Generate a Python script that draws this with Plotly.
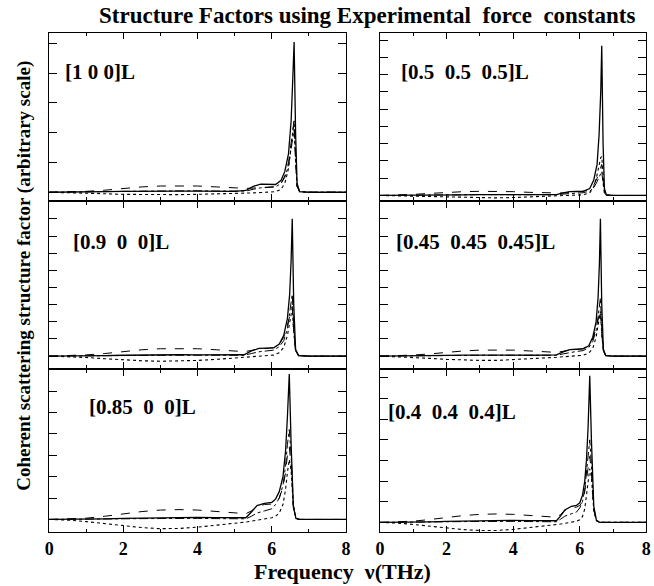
import plotly.graph_objects as go

# ---------------- data (arbitrary units, one unit = one y tick interval) ----------------
FREQ_TL = [0, 0.5, 1, 1.5, 2, 2.5, 3, 3.5, 4, 4.5, 5, 5.3, 5.5, 5.7, 5.9, 6.1, 6.25, 6.35, 6.45, 6.52, 6.57, 6.6, 6.64, 6.68, 6.75, 7, 8]
TL_SOLID = [0, 0, 0.01, 0.02, 0.03, 0.04, 0.04, 0.04, 0.04, 0.03, 0.03, 0.06, 0.2, 0.27, 0.26, 0.26, 0.4, 0.7, 1.3, 2.4, 4.0, 5.05, 2.0, 0.3, 0.02, 0, 0]
TL_DASH = [0, 0.01, 0.03, 0.07, 0.13, 0.18, 0.21, 0.22, 0.21, 0.18, 0.14, 0.13, 0.14, 0.16, 0.17, 0.19, 0.3, 0.55, 1.0, 1.6, 2.2, 2.4, 1.2, 0.2, 0.02, 0, 0]
TL_DOT = [0, -0.01, -0.03, -0.05, -0.07, -0.08, -0.08, -0.08, -0.07, -0.06, -0.04, -0.03, -0.02, -0.01, 0.0, 0.02, 0.1, 0.3, 0.8, 1.5, 2.2, 2.4, 1.3, 0.2, 0.02, 0, 0]
TL_DASHDOT = [0, 0, 0.01, 0.02, 0.03, 0.04, 0.05, 0.05, 0.05, 0.04, 0.03, 0.04, 0.1, 0.15, 0.16, 0.18, 0.3, 0.5, 0.9, 1.4, 1.9, 2.1, 1.0, 0.2, 0.02, 0, 0]

FREQ_TR = [0, 0.5, 1, 1.5, 2, 2.5, 3, 3.5, 4, 4.5, 5, 5.3, 5.5, 5.7, 5.9, 6.1, 6.3, 6.42, 6.52, 6.58, 6.63, 6.66, 6.7, 6.74, 6.8, 7, 8]
TR_SOLID = [0, 0, 0.01, 0.02, 0.03, 0.04, 0.05, 0.05, 0.04, 0.03, 0.03, 0.05, 0.15, 0.22, 0.23, 0.24, 0.4, 0.9, 1.8, 3.5, 6.0, 8.67, 3.0, 0.4, 0.03, 0, 0]
TR_DASH = [0, 0.02, 0.06, 0.12, 0.18, 0.22, 0.24, 0.24, 0.22, 0.18, 0.14, 0.12, 0.14, 0.18, 0.2, 0.24, 0.35, 0.6, 1.0, 1.4, 1.7, 1.8, 0.9, 0.2, 0.02, 0, 0]
TR_DOT = [0, -0.02, -0.05, -0.08, -0.11, -0.13, -0.14, -0.14, -0.12, -0.09, -0.06, -0.04, -0.03, -0.01, 0.01, 0.04, 0.15, 0.5, 1.2, 1.8, 2.2, 2.25, 1.1, 0.2, 0.02, 0, 0]
TR_DASHDOT = [0, 0, 0.01, 0.02, 0.03, 0.04, 0.05, 0.05, 0.05, 0.04, 0.03, 0.04, 0.08, 0.12, 0.14, 0.16, 0.25, 0.45, 0.8, 1.1, 1.35, 1.4, 0.7, 0.15, 0.02, 0, 0]

FREQ_ML = [0, 0.5, 1, 1.5, 2, 2.5, 3, 3.5, 4, 4.5, 5, 5.25, 5.45, 5.65, 5.85, 6.05, 6.2, 6.32, 6.42, 6.48, 6.52, 6.55, 6.59, 6.64, 6.72, 7, 8]
ML_SOLID = [0, 0, 0.01, 0.03, 0.05, 0.07, 0.08, 0.08, 0.07, 0.06, 0.05, 0.08, 0.3, 0.45, 0.47, 0.48, 0.7, 1.2, 2.2, 3.6, 5.6, 8.0, 3.0, 0.4, 0.03, 0, 0]
ML_DASH = [0, 0.02, 0.07, 0.15, 0.27, 0.37, 0.43, 0.45, 0.43, 0.37, 0.29, 0.26, 0.33, 0.42, 0.45, 0.5, 0.7, 1.1, 1.8, 2.4, 2.8, 2.9, 1.4, 0.3, 0.03, 0, 0]
ML_DOT = [0, -0.03, -0.08, -0.15, -0.22, -0.27, -0.3, -0.29, -0.25, -0.19, -0.12, -0.08, -0.05, -0.02, 0.01, 0.06, 0.2, 0.5, 1.2, 2.0, 2.6, 2.8, 1.4, 0.3, 0.03, 0, 0]
ML_DASHDOT = [0, 0, 0.01, 0.02, 0.03, 0.04, 0.05, 0.05, 0.05, 0.04, 0.03, 0.05, 0.15, 0.25, 0.3, 0.35, 0.55, 0.9, 1.6, 2.5, 3.3, 3.6, 1.7, 0.3, 0.03, 0, 0]

FREQ_MR = [0, 0.5, 1, 1.5, 2, 2.5, 3, 3.5, 4, 4.5, 5, 5.3, 5.5, 5.7, 5.9, 6.1, 6.27, 6.39, 6.49, 6.55, 6.59, 6.62, 6.66, 6.71, 6.78, 7, 8]
MR_SOLID = [0, 0, 0.01, 0.03, 0.04, 0.06, 0.07, 0.07, 0.06, 0.05, 0.04, 0.07, 0.25, 0.38, 0.4, 0.42, 0.6, 1.1, 2.0, 3.4, 5.4, 8.0, 3.0, 0.4, 0.03, 0, 0]
MR_DASH = [0, 0.02, 0.06, 0.13, 0.22, 0.3, 0.35, 0.37, 0.35, 0.3, 0.24, 0.22, 0.28, 0.36, 0.39, 0.44, 0.62, 1.0, 1.6, 2.2, 2.6, 2.7, 1.3, 0.3, 0.03, 0, 0]
MR_DOT = [0, -0.03, -0.07, -0.13, -0.19, -0.23, -0.25, -0.25, -0.21, -0.16, -0.1, -0.07, -0.04, -0.02, 0.01, 0.05, 0.18, 0.45, 1.1, 1.8, 2.4, 2.6, 1.3, 0.3, 0.03, 0, 0]
MR_DASHDOT = [0, 0, 0.01, 0.02, 0.03, 0.04, 0.05, 0.05, 0.05, 0.04, 0.03, 0.05, 0.13, 0.22, 0.27, 0.32, 0.5, 0.85, 1.5, 2.3, 3.1, 3.4, 1.6, 0.3, 0.03, 0, 0]

FREQ_BL = [0, 0.5, 1, 1.5, 2, 2.5, 3, 3.5, 4, 4.5, 5, 5.3, 5.45, 5.6, 5.8, 6.0, 6.1, 6.2, 6.3, 6.37, 6.42, 6.47, 6.52, 6.58, 6.65, 6.75, 7, 8]
BL_SOLID = [0, 0, 0.01, 0.03, 0.05, 0.07, 0.09, 0.1, 0.1, 0.09, 0.08, 0.08, 0.35, 0.65, 0.75, 0.8, 0.95, 1.3, 2.0, 3.2, 4.8, 6.8, 3.5, 0.6, 0.05, 0, 0, 0]
BL_DASH = [0, 0.02, 0.06, 0.15, 0.26, 0.37, 0.44, 0.46, 0.44, 0.38, 0.3, 0.27, 0.4, 0.6, 0.7, 0.72, 0.8, 1.0, 1.5, 2.2, 3.0, 3.4, 2.5, 0.6, 0.05, 0, 0, 0]
BL_DOT = [0, -0.03, -0.1, -0.2, -0.3, -0.38, -0.43, -0.42, -0.36, -0.28, -0.18, -0.12, -0.08, -0.04, 0.0, 0.08, 0.15, 0.3, 0.7, 1.4, 2.2, 2.8, 2.3, 0.6, 0.05, 0, 0, 0]
BL_DASHDOT = [0, 0, 0.01, 0.02, 0.03, 0.04, 0.05, 0.05, 0.05, 0.04, 0.03, 0.03, 0.15, 0.3, 0.4, 0.5, 0.7, 1.0, 1.6, 2.5, 3.5, 4.2, 3.0, 0.7, 0.05, 0, 0, 0]

FREQ_BR = [0, 0.5, 1, 1.5, 2, 2.5, 3, 3.5, 4, 4.5, 5, 5.3, 5.42, 5.55, 5.75, 5.9, 6.0, 6.08, 6.15, 6.2, 6.25, 6.3, 6.35, 6.42, 6.5, 6.6, 7, 8]
BR_SOLID = [0, 0, 0.01, 0.03, 0.05, 0.07, 0.09, 0.1, 0.1, 0.09, 0.08, 0.08, 0.3, 0.6, 0.78, 0.82, 0.95, 1.3, 2.0, 3.0, 4.6, 7.1, 4.0, 0.8, 0.1, 0, 0, 0]
BR_DASH = [0, 0.02, 0.06, 0.14, 0.24, 0.33, 0.39, 0.41, 0.39, 0.34, 0.27, 0.25, 0.38, 0.58, 0.7, 0.74, 0.82, 1.0, 1.5, 2.1, 2.8, 3.2, 2.4, 0.6, 0.08, 0, 0, 0]
BR_DOT = [0, -0.03, -0.1, -0.19, -0.28, -0.35, -0.39, -0.39, -0.34, -0.26, -0.17, -0.12, -0.08, -0.05, 0.0, 0.06, 0.13, 0.28, 0.65, 1.3, 2.0, 2.6, 2.2, 0.6, 0.08, 0, 0, 0]
BR_DASHDOT = [0, 0, 0.01, 0.02, 0.03, 0.04, 0.05, 0.05, 0.05, 0.04, 0.03, 0.03, 0.15, 0.3, 0.42, 0.5, 0.7, 1.0, 1.6, 2.5, 3.4, 4.0, 2.8, 0.7, 0.08, 0, 0, 0]

PANEL_LABELS = ["[1 0 0]L", "[0.5  0.5  0.5]L", "[0.9  0  0]L",
                "[0.45  0.45  0.45]L", "[0.85  0  0]L", "[0.4  0.4  0.4]L"]
X_TICKS = [0, 2, 4, 6, 8]
TITLE = "Structure Factors using Experimental  force  constants"
X_TITLE = "Frequency  \u03bd(THz)"
Y_TITLE = "Coherent scattering structure factor (arbitrary scale)"

# ---------------- layout helpers ----------------
W, H = 654, 586
FONT = "Liberation Serif"
LW = 1.4

def fx(px):
    return px / W

def fy(py):
    return 1 - py / H

col_dom = [[fx(45 + LW / 2), fx(347 - LW / 2)], [fx(380 + LW / 2), fx(651 - LW / 2)]]
row_dom = [[fy(201 - LW / 2), fy(32 + LW / 2)],
           [fy(369 - LW / 2), fy(201 + LW / 2)],
           [fy(533 - LW / 2), fy(369 + LW / 2)]]

panels = [
    (FREQ_TL, TL_SOLID, TL_DASH, TL_DOT, TL_DASHDOT, [-0.27, 5.36]),
    (FREQ_TR, TR_SOLID, TR_DASH, TR_DOT, TR_DASHDOT, [-0.28, 9.43]),
    (FREQ_ML, ML_SOLID, ML_DASH, ML_DOT, ML_DASHDOT, [-0.71, 9.0]),
    (FREQ_MR, MR_SOLID, MR_DASH, MR_DOT, MR_DASHDOT, [-0.71, 9.0]),
    (FREQ_BL, BL_SOLID, BL_DASH, BL_DOT, BL_DASHDOT, [-0.6, 7.0]),
    (FREQ_BR, BR_SOLID, BR_DASH, BR_DOT, BR_DASHDOT, [-0.48, 7.4]),
]
label_pos = [(60, 72), (400, 72), (68, 242), (395, 242), (84, 407), (387, 412)]

fig = go.Figure()
layout = dict(width=W, height=H, margin=dict(l=0, r=0, t=0, b=0),
              paper_bgcolor="white", plot_bgcolor="white", showlegend=False)
annotations = []

styles = [("solid", 1.3), ("dash", 1.0), ("dot", 1.1), ("dashdot", 1.0)]

for i, (fr, s, d, dt, dd, yr) in enumerate(panels):
    r, c = divmod(i, 2)
    n = "" if i == 0 else str(i + 1)
    xa, ya = "x" + n, "y" + n
    for series, (dash, lw) in zip([s, d, dt, dd], styles):
        fig.add_trace(go.Scatter(x=fr, y=series, mode="lines", xaxis=xa, yaxis=ya,
                                 line=dict(color="black", width=lw, dash=dash),
                                 hoverinfo="skip"))
    layout["xaxis" + n] = dict(
        domain=col_dom[c], anchor=ya, range=[0, 8], tickmode="array",
        tickvals=X_TICKS, ticktext=[str(v) for v in X_TICKS],
        ticks="inside", ticklen=6, tickwidth=1.2, tickcolor="black",
        minor=dict(tickmode="array", tickvals=[1, 3, 5, 7], ticks="inside",
                   ticklen=3, tickwidth=1, tickcolor="black"),
        showline=True, linecolor="black", linewidth=LW, mirror="ticks",
        showgrid=False, zeroline=False, showticklabels=(r == 2),
        tickfont=dict(family=FONT, size=18, color="black", weight="bold"),
    )
    layout["yaxis" + n] = dict(
        domain=row_dom[r], anchor=xa, range=yr, tick0=0, dtick=1,
        ticks="inside", ticklen=8, tickwidth=1.2, tickcolor="black",
        showline=True, linecolor="black", linewidth=LW, mirror="ticks",
        showgrid=False, zeroline=False, showticklabels=False,
    )
    lx, ly = label_pos[i]
    annotations.append(dict(text=PANEL_LABELS[i], x=fx(lx), y=fy(ly), xref="paper",
                            yref="paper", xanchor="left", yanchor="middle",
                            showarrow=False,
                            font=dict(family=FONT, size=21, color="black", weight="bold")))

annotations.append(dict(text=TITLE, x=fx(368), y=fy(15), xref="paper", yref="paper",
                        xanchor="center", yanchor="middle", showarrow=False,
                        font=dict(family=FONT, size=23, color="black", weight="bold")))
annotations.append(dict(text=X_TITLE, x=fx(343), y=0, xref="paper", yref="paper",
                        xanchor="center", yanchor="bottom", showarrow=False,
                        font=dict(family=FONT, size=22, color="black", weight="bold")))
annotations.append(dict(text=Y_TITLE, x=fx(20), y=fy(276), xref="paper", yref="paper",
                        xanchor="center", yanchor="middle", showarrow=False, textangle=-90,
                        font=dict(family=FONT, size=19, color="black", weight="bold")))
layout["annotations"] = annotations
fig.update_layout(**layout)
fig.write_html("out.html")
